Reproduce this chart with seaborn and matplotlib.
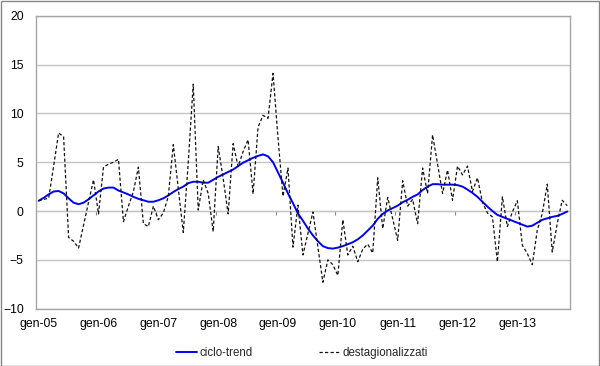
import numpy as np
import pandas as pd
import matplotlib
matplotlib.use('Agg')
import matplotlib.pyplot as plt
import seaborn as sns
from matplotlib.patches import Rectangle

# monthly series, gen-05 .. nov-13
mesi = pd.date_range('2005-01-01', periods=107, freq='MS')

ciclo_trend = [
    1.05, 1.35, 1.7, 2.0, 2.05, 1.8, 1.3, 0.85, 0.7, 0.85, 1.2, 1.6,
    2.0, 2.3, 2.4, 2.4, 2.1, 1.9, 1.7, 1.45, 1.25, 1.1, 0.95, 0.95,
    1.1, 1.3, 1.6, 1.95, 2.25, 2.5, 2.85, 3.0, 3.0, 2.9, 2.9, 3.2,
    3.5, 3.75, 4.0, 4.25, 4.6, 4.95, 5.2, 5.45, 5.65, 5.8, 5.6, 5.0,
    3.95, 2.9, 1.8, 0.8, -0.25, -1.0, -1.8, -2.5, -3.1, -3.6, -3.8, -3.85,
    -3.75, -3.6, -3.4, -3.2, -2.9, -2.5, -2.0, -1.5, -0.8, -0.3, 0.05, 0.3,
    0.55, 0.9, 1.15, 1.45, 1.7, 2.15, 2.5, 2.75, 2.75, 2.7, 2.7, 2.7,
    2.65, 2.5, 2.2, 1.85, 1.45, 0.95, 0.45, 0.0, -0.4, -0.6, -0.8, -1.0,
    -1.2, -1.4, -1.6, -1.5, -1.2, -0.9, -0.75, -0.6, -0.5, -0.3, -0.05,
]

destagionalizzati = [
    1.05, 1.2, 1.3, 4.6, 8.0, 7.6, -2.7, -3.1, -3.8, -1.45, 0.9, 3.2,
    -0.3, 4.5, 4.8, 5.0, 5.3, -1.1, 0.5, 2.0, 4.5, -1.3, -1.6, 0.5,
    -0.9, -0.2, 1.5, 6.8, 2.3, -2.2, 5.0, 13.0, 0.1, 3.2, 1.8, -2.1,
    6.6, 3.35, -0.3, 6.9, 4.55, 6.1, 7.3, 1.75, 8.6, 9.8, 9.5, 14.1,
    7.5, 1.5, 4.4, -3.7, 0.6, -4.5, -2.3, -0.1, -3.7, -7.3, -5.0, -5.5,
    -6.6, -0.9, -4.5, -3.6, -5.2, -3.9, -3.4, -4.3, 3.4, -1.8, 1.4, -0.8,
    -3.0, 3.1, 0.5, 1.2, -1.3, 4.4, 1.8, 7.8, 4.8, 1.8, 4.2, 1.1,
    4.6, 3.7, 4.6, 2.0, 3.4, 0.9, -0.2, -0.6, -5.2, 1.45, -1.6, -0.1,
    1.05, -3.5, -4.35, -5.5, -1.95, -0.25, 2.75, -4.2, -1.3, 1.1, 0.55,
]

tick_labels = ['gen-05', 'gen-06', 'gen-07', 'gen-08', 'gen-09',
               'gen-10', 'gen-11', 'gen-12', 'gen-13']

df = pd.DataFrame({
    'mese': np.arange(len(mesi)),
    'ciclo-trend': ciclo_trend,
    'destagionalizzati': destagionalizzati,
})

sns.set_style('white')
plt.rcParams['font.family'] = ['Liberation Sans', 'DejaVu Sans']

fig = plt.figure(figsize=(6, 3.66), dpi=100)
ax = fig.add_axes([0.0603, 0.1568, 0.8892, 0.80])

sns.lineplot(data=df, x='mese', y='ciclo-trend', ax=ax, color='#0000ff',
             lw=1.4, label='ciclo-trend')
sns.lineplot(data=df, x='mese', y='destagionalizzati', ax=ax, color='#111111',
             lw=0.9, linestyle=(0, (2.6, 1.8)), label='destagionalizzati')

ax.set_xlim(-0.5, len(mesi) - 0.5)
ax.set_ylim(-10, 20)
ax.set_yticks(range(-10, 21, 5))
ax.set_xticks(range(0, 12 * len(tick_labels), 12))
ax.set_xticklabels(tick_labels)
ax.set_xlabel('')
ax.set_ylabel('')
ax.grid(axis='y', color='#c4c4c4', lw=1)
ax.tick_params(axis='both', length=0, labelsize=8.8, colors='black')
ax.tick_params(axis='y', pad=9)
ax.tick_params(axis='x', pad=7)
for sp in ax.spines.values():
    sp.set_color('#a6a6a6')
    sp.set_linewidth(1)

# category axis crossing at zero, ticks between years
sec = ax.secondary_xaxis(1 / 3)
sec.set_alignment('bottom')
sec.set_xticks(np.arange(11.5, len(mesi), 12))
sec.tick_params(axis='x', length=3, direction='out', color='#868686',
                labelbottom=False, labeltop=False)
sec.spines['bottom'].set_color('#868686')

handles, labels = ax.get_legend_handles_labels()
ax.get_legend().remove()
fig.legend(handles, labels, loc='center', bbox_to_anchor=(0.503, 0.0355),
           ncol=2, frameon=False, fontsize=8.3, handlelength=1.8,
           handletextpad=0.2, columnspacing=5.8)

fig.add_artist(Rectangle((0.001, 0.001), 0.998, 0.997, transform=fig.transFigure,
                         fill=False, ec='#868686', lw=1))

fig.savefig('out.png', dpi=100)
